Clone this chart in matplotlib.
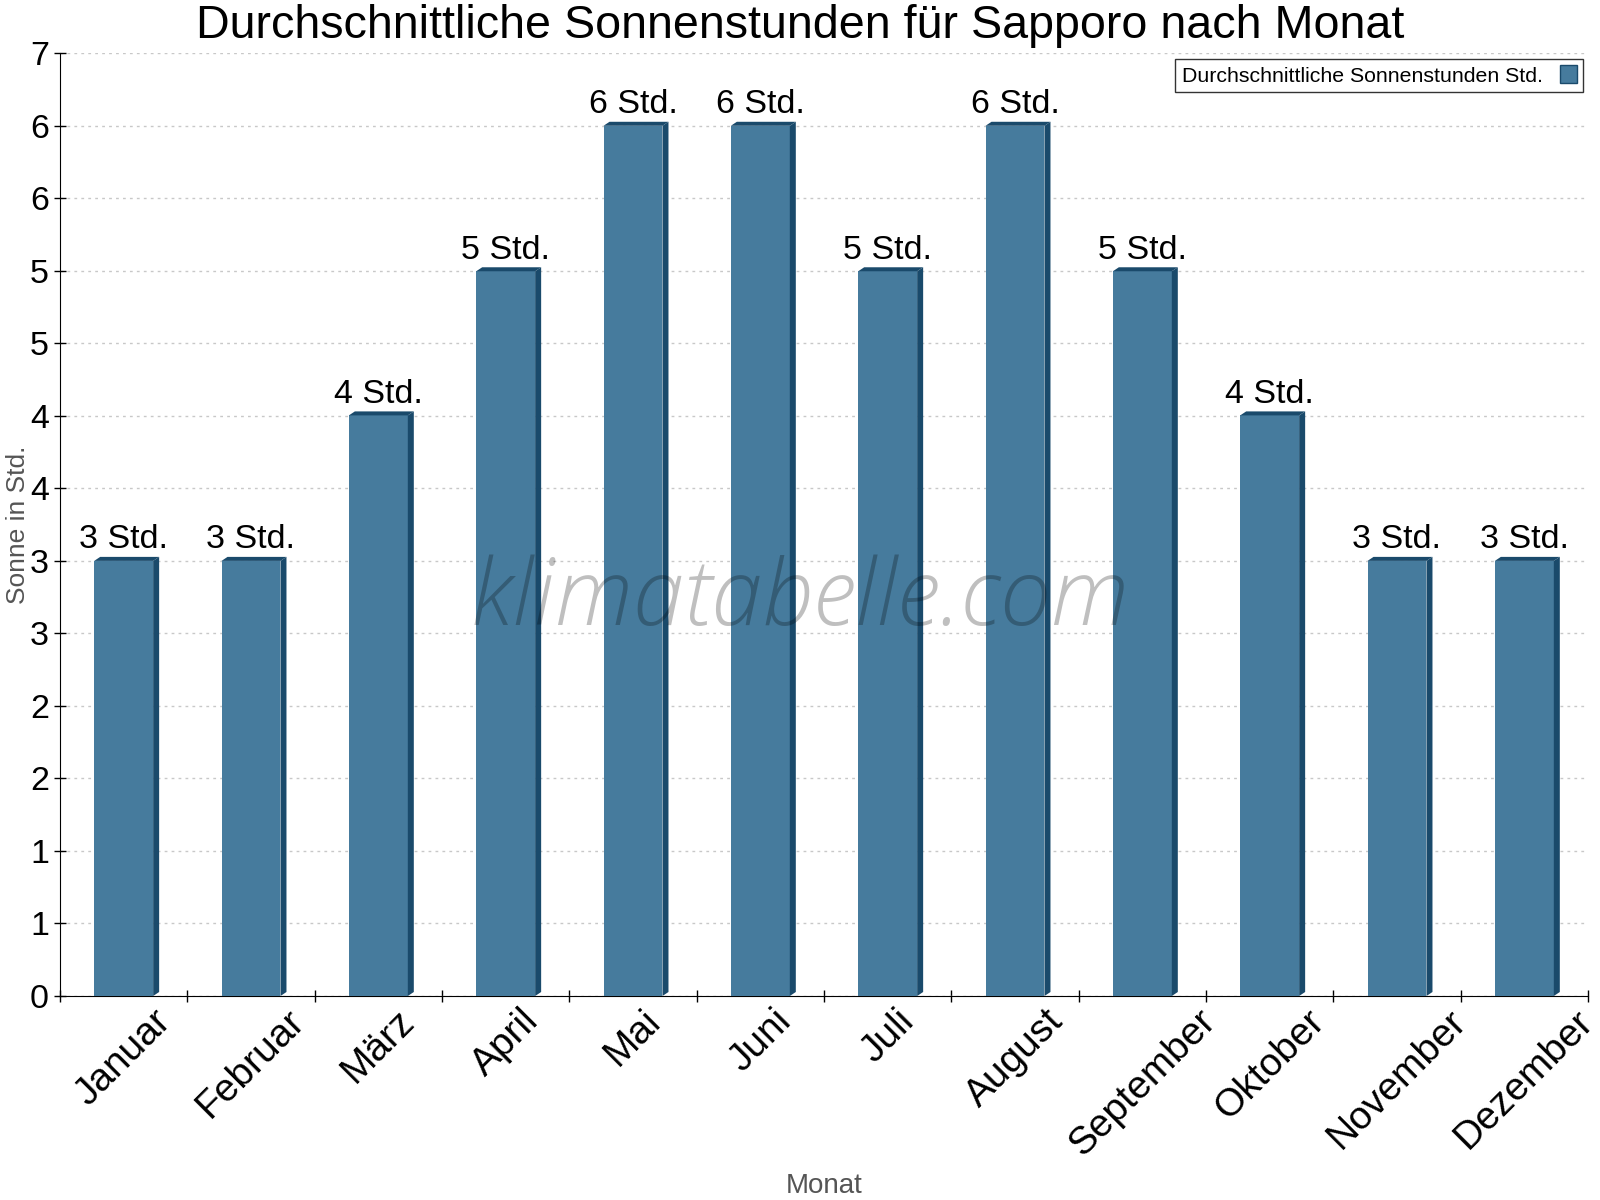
import numpy as np
import matplotlib.pyplot as plt
from matplotlib.patches import Polygon

plt.rcParams['font.family'] = ['Liberation Sans', 'DejaVu Sans']

months = ['Januar', 'Februar', 'März', 'April', 'Mai', 'Juni', 'Juli',
          'August', 'September', 'Oktober', 'November', 'Dezember']
sun_hours = [3.23, 3.23, 4.31, 5.38, 6.46, 6.46, 5.38, 6.46, 5.38, 4.31, 3.23, 3.23]
y_tick_labels = ['0', '1', '1', '2', '2', '3', '3', '4', '4', '5', '5', '6', '6', '7']

front = '#467b9d'
side = '#1a4a6b'

fig = plt.figure(figsize=(16, 12), dpi=100)
ax = fig.add_axes([0.0375, 0.17, 0.955, 0.7858])

x = np.arange(len(months))
bar_w = 0.463
ax.bar(x, sun_hours, width=bar_w, color=front, zorder=3, label='Durchschnittliche Sonnenstunden Std.',
       edgecolor='none')
ax.set_xlim(-0.5, len(months) - 0.5)
ax.set_ylim(0, 7)

# pseudo-3D side and top faces
bbox = ax.get_window_extent()
dx = 6 * (len(months)) / bbox.width
dy = 4 * 7 / bbox.height
for xi, v in zip(x, sun_hours):
    l, r = xi - bar_w / 2, xi + bar_w / 2
    ax.add_patch(Polygon([(r, 0), (r + dx, dy), (r + dx, v + dy), (r, v)],
                         closed=True, color=side, zorder=3, lw=0))
    ax.add_patch(Polygon([(l, v), (l + dx, v + dy), (r + dx, v + dy), (r, v)],
                         closed=True, color=side, zorder=3, lw=0))
    ax.annotate(f'{v:.0f} Std.', (xi, v), xytext=(0, 4), textcoords='offset points',
                ha='center', va='bottom', fontsize=24.5, zorder=5)

yt = np.linspace(0, 7, len(y_tick_labels))
ax.set_yticks(yt)
ax.set_yticklabels(y_tick_labels, fontsize=24.5)
ax.yaxis.grid(True, color='#c8c8c8', linestyle=(0, (2, 3)), linewidth=1, zorder=0)

ax.set_xticks(np.arange(-0.5, len(months), 1))
ax.set_xticklabels([])
ax.set_xticks(x, minor=True)
ax.set_xticklabels(months, minor=True, fontsize=28, rotation=45,
                   ha='center', va='top')
ax.tick_params(axis='x', which='minor', length=0, pad=5)
ax.tick_params(axis='both', which='major', direction='inout', length=8, width=1)
ax.tick_params(axis='y', pad=4)

for s in ['top', 'right']:
    ax.spines[s].set_visible(False)

fig.suptitle('Durchschnittliche Sonnenstunden für Sapporo nach Monat', fontsize=33.6, y=0.997, va='top')
fig.text(0.011, 0.563, 'Sonne in Std.', rotation=90, ha='center', va='center',
         fontsize=19, color='#555555')
fig.text(0.515, 0.012, 'Monat', ha='center', va='center', fontsize=20, color='#555555')

fig.text(0.5, 0.499, 'klimatabelle.com', ha='center', va='center', fontsize=66,
         family='Open Sans', weight='light', style='italic',
         color='black', alpha=0.25, zorder=10)

leg = ax.legend(loc='upper right', bbox_to_anchor=(0.9967, 0.9936), borderaxespad=0,
                fontsize=15.3, markerfirst=False, frameon=True, fancybox=False,
                handlelength=0.8, handleheight=0.9, borderpad=0.3, handletextpad=0.8)
leg.get_frame().set_edgecolor('black')
leg.get_frame().set_linewidth(1)
leg.legend_handles[0].set_edgecolor(side)
leg.legend_handles[0].set_linewidth(1)

fig.savefig('out.png', dpi=100)
